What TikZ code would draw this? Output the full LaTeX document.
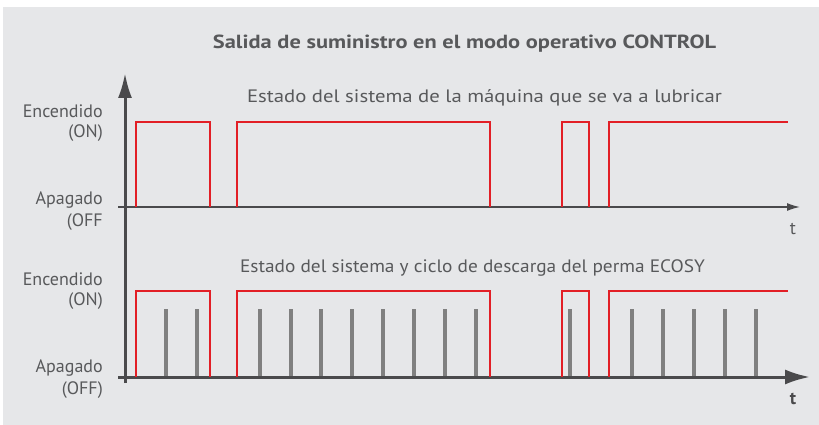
\documentclass[tikz,border=0pt]{standalone}
\usepackage{fontspec}
\usepackage{graphicx}
\setmainfont{PT Sans}
\usetikzlibrary{arrows.meta}
\definecolor{bgc}{HTML}{E6E7E9}
\definecolor{redc}{HTML}{E21F26}
\definecolor{spk}{HTML}{808080}
\definecolor{axc}{HTML}{4A4A4C}
\definecolor{txc}{HTML}{58595B}
\tikzset{
  pulse/.style={draw=redc,line width=2.4pt},
  spike/.style={draw=spk,line width=3.8pt},
  lbl/.style={anchor=east,text=txc,font=\fontsize{18}{20}\selectfont,inner sep=0pt},
  captext/.style={text=txc,font=\fontsize{18}{20}\selectfont,inner sep=0pt},
}
\begin{document}
\begin{tikzpicture}[x=1pt,y=-1pt]
\useasboundingbox (0,0) rectangle (819,425);
\fill[bgc] (3,7) rectangle (819,425);
% title
\node[text=txc,font=\fontsize{19}{22}\selectfont\bfseries,inner sep=0pt] (title) at (464.5,44) {\resizebox{503pt}{\height}{Salida de suministro en el modo operativo CONTROL}};
\node[captext] (cap1) at (484.5,98) {\resizebox{475pt}{\height}{Estado del sistema de la máquina que se va a lubricar}};
\node[captext] (cap2) at (472.5,268) {\resizebox{465pt}{\height}{Estado del sistema y ciclo de descarga del perma ECOSY}};
% labels
\node[lbl] (on1a) at (103,111) {Encendido};
\node[lbl] (on1b) at (103,133) {(ON)};
\node[lbl] (off1a) at (103,200) {Apagado};
\node[lbl] (off1b) at (103,222) {(OFF};
\node[lbl] (on2a) at (103,279) {Encendido};
\node[lbl] (on2b) at (103,301) {(ON)};
\node[lbl] (off2a) at (103,368) {Apagado};
\node[lbl] (off2b) at (103,390) {(OFF)};
\node[text=txc,font=\fontsize{18}{20}\selectfont,inner sep=0pt] (t1) at (793,229) {t};
\node[text=axc,font=\fontsize{18}{20}\selectfont\bfseries,inner sep=0pt] (t2) at (793,399) {t};
% spikes
\foreach \x in {166,197,260,291,321,352,383,414,445,476,570,632,663,694,725,756}
  \draw[spike] (\x,377) -- (\x,309);
% axes
\coordinate (yb) at (125,383);
\coordinate (yt) at (125,73);
\draw[axc,line width=3pt,-{Latex[length=25pt,width=14pt]}] (yb) -- (yt);
\coordinate (b1s) at (118,207);
\coordinate (b1e) at (800,207);
\draw[axc,line width=1.5pt,-{Latex[length=13pt,width=8pt]}] (b1s) -- (b1e);
\coordinate (b2s) at (118,377);
\coordinate (b2e) at (810,377);
\draw[axc,line width=3pt,-{Latex[length=25pt,width=15pt]}] (b2s) -- (b2e);
% upper pulses
\foreach \a/\b in {136/210,237/490,562/589}
  \draw[pulse] (\a,207) -- (\a,122) -- (\b,122) -- (\b,207);
\draw[pulse] (609,207) -- (609,122) -- (788,122);
% lower pulses
\foreach \a/\b in {136/210,237/490,562/589}
  \draw[pulse] (\a,377) -- (\a,291) -- (\b,291) -- (\b,377);
\draw[pulse] (609,377) -- (609,291) -- (788,291);
\end{tikzpicture}
\end{document}
